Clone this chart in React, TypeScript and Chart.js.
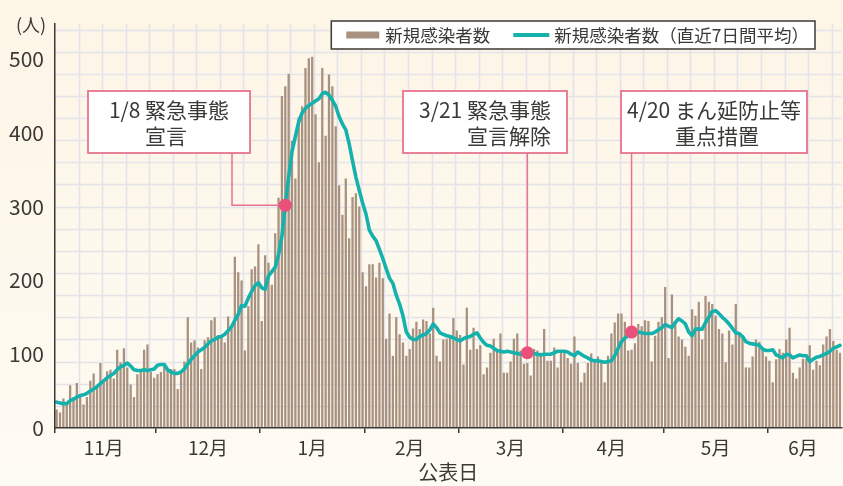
import React, { useEffect, useRef } from 'react';
import { Chart, registerables } from 'chart.js';

Chart.register(...registerables);

// ---------------- data ----------------
const START_YEAR = 2020;
const START_MONTH = 11;
const START_DAY = 1;

const DAILY_CASES = [
  25, 21, 40, 33, 58, 42, 61, 44, 32, 42,
  64, 74, 58, 88, 64, 77, 79, 67, 106, 89,
  108, 82, 59, 42, 73, 76, 106, 113, 76, 68,
  73, 76, 87, 78, 80, 80, 53, 76, 90, 150,
  116, 119, 109, 80, 119, 123, 146, 150, 126, 126,
  116, 151, 136, 232, 211, 200, 105, 165, 215, 219,
  249, 145, 234, 224, 194, 264, 312, 450, 463, 480,
  389, 338, 421, 436, 488, 501, 503, 425, 360, 488,
  396, 479, 463, 409, 329, 289, 338, 257, 313, 318,
  300, 211, 192, 222, 222, 204, 224, 203, 121, 155,
  98, 150, 127, 116, 98, 107, 135, 144, 134, 147,
  145, 128, 163, 98, 90, 120, 121, 125, 149, 132,
  126, 86, 163, 106, 136, 107, 112, 73, 82, 102,
  121, 105, 128, 75, 75, 90, 121, 128, 105, 87,
  88, 71, 107, 105, 102, 134, 91, 91, 109, 82,
  102, 102, 95, 87, 124, 88, 62, 75, 88, 101,
  91, 97, 91, 62, 98, 128, 143, 155, 155, 144,
  105, 106, 115, 141, 138, 146, 145, 90, 125, 144,
  150, 191, 95, 181, 144, 124, 120, 110, 98, 161,
  152, 171, 120, 179, 171, 168, 152, 134, 128, 89,
  132, 113, 168, 129, 122, 82, 82, 97, 120, 117,
  106, 97, 91, 62, 93, 107, 102, 120, 136, 75,
  67, 82, 94, 94, 112, 79, 91, 85, 113, 124,
  134, 118, 106, 102,
];

const AVERAGE_7D = [
  35, 34, 33, 33, 37, 39, 42, 44, 45, 47,
  50, 53, 56, 60, 64, 68, 71, 74, 79, 83,
  85, 88, 84, 79, 78, 78, 79, 78, 79, 80,
  85, 86, 86, 79, 76, 74, 74, 76, 80, 87,
  93, 98, 103, 106, 109, 114, 118, 120, 123, 124,
  127, 132, 137, 146, 154, 166, 165, 176, 185, 193,
  197, 190, 188, 206, 212, 218, 235, 260, 302, 340,
  375, 395, 415, 427, 433, 437, 440, 443, 446, 453,
  455, 451, 444, 436, 422, 412, 404, 385, 362, 340,
  322, 305, 290, 268, 260, 254, 242, 230, 216, 203,
  196, 180, 168, 152, 130, 123, 120, 120, 124, 126,
  128, 133, 141, 136, 129, 127, 125, 124, 122, 120,
  118, 121, 123, 124, 127, 129, 122, 116, 112, 111,
  108, 105, 104, 103, 104, 103, 102, 101, 100, 100,
  102, 102, 101, 100, 99, 100, 100, 100, 102, 104,
  104, 104, 103, 100, 98, 103, 100, 97, 95, 92,
  91, 91, 90, 89, 90, 91, 98, 108, 117, 122,
  125, 130, 129, 130, 129, 128, 128, 128, 130, 133,
  136, 140, 138, 136, 143, 148, 145, 141, 130, 125,
  134, 134, 134, 143, 150, 158, 159, 155, 150, 146,
  141, 135, 129, 128, 124, 117, 115, 114, 113, 112,
  107, 105, 105, 106, 99, 97, 95, 100, 99, 95,
  97, 99, 98, 98, 90, 93, 96, 97, 99, 101,
  104, 108, 110, 112,
];

const Y_TICKS = [0, 100, 200, 300, 400, 500];
const Y_MAX = 548;
const PAPER_STEP_VALUE = 30;
const PAPER_STEP_DAYS = 7;

const SERIES_LABELS = ['新規感染者数', '新規感染者数（直近7日間平均）'];
const Y_UNIT = '(人)';
const X_TITLE = '公表日';

// event markers (position)
const EVENT_DATES = ['2021-01-08', '2021-03-21', '2021-04-21'];
const EVENT_VALUES = [302, 102, 130];
const EVENT_HEAD = ['1/8', '3/21', '4/20'];
const EVENT_LINE1 = ['緊急事態', '緊急事態', 'まん延防止等'];
const EVENT_LINE2 = ['宣言', '宣言解除', '重点措置'];

// ---------------- styles ----------------
const FONT = "'Noto Sans CJK JP', 'Noto Sans', sans-serif";
const INK = '#3b3936';
const BAR_COLOR = '#a8927f';
const TEAL = '#14b1ad';
const PINK = '#e8728f';
const PINK_DOT = '#e9517b';
const PAPER_LINE = '#e4e3ea';
const CALLOUT_BOXES = [
  { left: 88, width: 162, elbowX: 232 },
  { left: 403, width: 164 },
  { left: 621, width: 186 },
];
const CALLOUT_TOP = 91;
const CALLOUT_HEIGHT = 62;
const LEGEND_BOX = { right: 815, top: 21, height: 28 };

// ---------------- derived ----------------
const pad2 = (n: number) => String(n).padStart(2, '0');
const LABELS = DAILY_CASES.map((_, i) => {
  const d = new Date(START_YEAR, START_MONTH - 1, START_DAY + i);
  return `${d.getFullYear()}-${pad2(d.getMonth() + 1)}-${pad2(d.getDate())}`;
});
const monthOf = (l: string) => Number(l.slice(5, 7));
const dayOf = (l: string) => Number(l.slice(8, 10));
const MONTH_LABEL_AT: Record<number, string> = {};
{
  let s = 0;
  for (let i = 1; i <= LABELS.length; i++) {
    if (i === LABELS.length || monthOf(LABELS[i]) !== monthOf(LABELS[s])) {
      MONTH_LABEL_AT[Math.floor((s + i - 1) / 2)] = `${monthOf(LABELS[s])}月`;
      s = i;
    }
  }
}
const EVENT_SERIES = LABELS.map((l) => {
  const k = EVENT_DATES.indexOf(l);
  return k >= 0 ? EVENT_VALUES[k] : null;
});

// ---------------- plugins ----------------
const paperPlugin = {
  id: 'paper',
  beforeDraw(chart: any) {
    const { ctx, width, height } = chart;
    const g = ctx.createLinearGradient(0, 0, 0, height);
    g.addColorStop(0, '#fdf5e6');
    g.addColorStop(1, '#fefbf3');
    ctx.save();
    ctx.fillStyle = g;
    ctx.fillRect(0, 0, width, height);
    ctx.restore();
  },
  beforeDatasetsDraw(chart: any) {
    const { ctx, chartArea: a, scales } = chart;
    const x = scales.x;
    const y = scales.y;
    ctx.save();
    ctx.beginPath();
    ctx.rect(a.left, a.top, a.right - a.left, a.bottom - a.top);
    ctx.clip();
    ctx.strokeStyle = PAPER_LINE;
    ctx.lineWidth = 1.6;
    ctx.beginPath();
    for (let v = PAPER_STEP_VALUE; v <= y.max; v += PAPER_STEP_VALUE) {
      const py = Math.round(y.getPixelForValue(v)) + 0.5;
      ctx.moveTo(a.left, py);
      ctx.lineTo(a.right, py);
    }
    const half = (x.getPixelForValue(1) - x.getPixelForValue(0)) / 2;
    for (let i = PAPER_STEP_DAYS; i < LABELS.length; i += PAPER_STEP_DAYS) {
      const px = Math.round(x.getPixelForValue(i) - half) + 0.5;
      ctx.moveTo(px, a.top);
      ctx.lineTo(px, a.bottom);
    }
    ctx.stroke();
    ctx.restore();
  },
};

const calloutPlugin = {
  id: 'callouts',
  beforeDatasetDraw(chart: any, args: any) {
    if (args.index !== 2) return;
    const { ctx, scales } = chart;
    const x = scales.x;
    const y = scales.y;
    ctx.save();
    EVENT_DATES.forEach((date, k) => {
      const idx = LABELS.indexOf(date);
      const px = x.getPixelForValue(idx);
      const py = y.getPixelForValue(EVENT_VALUES[k]);
      const box: any = CALLOUT_BOXES[k];
      const bottom = CALLOUT_TOP + CALLOUT_HEIGHT;
      ctx.strokeStyle = PINK;
      ctx.lineWidth = 1.5;
      ctx.beginPath();
      if (box.elbowX !== undefined) {
        ctx.moveTo(box.elbowX, bottom);
        ctx.lineTo(box.elbowX, py);
        ctx.lineTo(px, py);
      } else {
        ctx.moveTo(px, bottom);
        ctx.lineTo(px, py);
      }
      ctx.stroke();
      ctx.fillStyle = '#ffffff';
      ctx.fillRect(box.left, CALLOUT_TOP, box.width, CALLOUT_HEIGHT);
      ctx.lineWidth = 1.8;
      ctx.strokeRect(box.left, CALLOUT_TOP, box.width, CALLOUT_HEIGHT);
      ctx.font = `21px ${FONT}`;
      ctx.fillStyle = INK;
      ctx.textBaseline = 'middle';
      ctx.textAlign = 'left';
      const head = EVENT_HEAD[k] + ' ';
      const first = head + EVENT_LINE1[k];
      const w = ctx.measureText(first).width;
      const sx = box.left + box.width / 2 - w / 2;
      ctx.fillText(first, sx, CALLOUT_TOP + 19);
      ctx.fillText(EVENT_LINE2[k], sx + ctx.measureText(head).width, CALLOUT_TOP + 45);
    });
    ctx.restore();
  },
};

const legendPlugin = {
  id: 'boxLegend',
  afterDraw(chart: any) {
    const { ctx } = chart;
    const ds = chart.data.datasets;
    ctx.save();
    ctx.font = `17.5px ${FONT}`;
    ctx.textBaseline = 'middle';
    ctx.textAlign = 'left';
    const w1 = ctx.measureText(ds[0].label).width;
    const w2 = ctx.measureText(ds[1].label).width;
    const total = 15 + 33 + 6 + w1 + 23 + 36 + 5 + w2 + 6;
    const left = LEGEND_BOX.right - total;
    const top = LEGEND_BOX.top;
    const h = LEGEND_BOX.height;
    const cy = top + h / 2;
    ctx.fillStyle = '#ffffff';
    ctx.fillRect(left, top, total, h);
    ctx.strokeStyle = INK;
    ctx.lineWidth = 1.5;
    ctx.strokeRect(left, top, total, h);
    let cx = left + 15;
    ctx.fillStyle = ds[0].backgroundColor;
    ctx.fillRect(cx, cy - 3.5, 33, 7);
    cx += 39;
    ctx.fillStyle = INK;
    ctx.fillText(ds[0].label, cx, cy + 0.5);
    cx += w1 + 23;
    ctx.strokeStyle = ds[1].borderColor;
    ctx.lineWidth = 4;
    ctx.beginPath();
    ctx.moveTo(cx, cy);
    ctx.lineTo(cx + 36, cy);
    ctx.stroke();
    cx += 41;
    ctx.fillText(ds[1].label, cx, cy + 0.5);

    const a = chart.chartArea;
    ctx.font = `18px ${FONT}`;
    ctx.textAlign = 'center';
    ctx.fillText(Y_UNIT, a.left - 24, a.top + 2);
    ctx.restore();
  },
};

export default function App() {
  const ref = useRef<HTMLCanvasElement | null>(null);

  useEffect(() => {
    if (!ref.current) return;
    const chart = new Chart(ref.current, {
      type: 'bar',
      data: {
        labels: LABELS,
        datasets: [
          {
            type: 'bar',
            label: SERIES_LABELS[0],
            data: DAILY_CASES,
            backgroundColor: BAR_COLOR,
            borderWidth: 0,
            barPercentage: 0.68,
            categoryPercentage: 1.0,
            order: 3,
          } as any,
          {
            type: 'line',
            label: SERIES_LABELS[1],
            data: AVERAGE_7D,
            borderColor: TEAL,
            backgroundColor: TEAL,
            borderWidth: 3.6,
            pointRadius: 0,
            tension: 0,
            borderJoinStyle: 'round',
            borderCapStyle: 'round',
            order: 2,
          } as any,
          {
            type: 'line',
            label: 'events',
            data: EVENT_SERIES,
            showLine: false,
            pointRadius: 6.5,
            pointBackgroundColor: PINK_DOT,
            pointBorderWidth: 0,
            order: 1,
          } as any,
        ],
      },
      options: {
        responsive: false,
        devicePixelRatio: 1,
        animation: false,
        layout: { autoPadding: false, padding: { top: 22, left: 0, right: 0, bottom: 0 } },
        plugins: {
          legend: { display: false },
          tooltip: { enabled: false },
        },
        scales: {
          x: {
            type: 'category',
            offset: true,
            grid: {
              display: true,
              drawOnChartArea: false,
              drawTicks: true,
              tickLength: 5,
              offset: true,
              color: 'rgba(0,0,0,0)',
              lineWidth: 1.5,
              z: 1,
              tickColor: (c: any) =>
                c.index < LABELS.length && dayOf(LABELS[c.index]) === 1 ? INK : 'rgba(0,0,0,0)',
            },
            border: { display: true, color: INK, width: 1.5, z: 1 },
            ticks: {
              autoSkip: false,
              maxRotation: 0,
              minRotation: 0,
              padding: 3,
              color: INK,
              font: { family: FONT, size: 19 },
              callback: (_v: any, i: number) => MONTH_LABEL_AT[i] || '',
            },
            title: {
              display: true,
              text: X_TITLE,
              color: INK,
              font: { family: FONT, size: 20 },
              padding: { top: 0, bottom: 2 },
            },
            afterFit: (s: any) => {
              s.height = 58;
            },
          } as any,
          y: {
            min: 0,
            max: Y_MAX,
            grid: { display: false, drawTicks: false },
            border: { display: true, color: INK, width: 1.5, z: 1 },
            ticks: {
              stepSize: 100,
              includeBounds: false,
              padding: 11,
              color: INK,
              font: { family: FONT, size: 21 },
              callback: (v: any) => (Y_TICKS.includes(Number(v)) ? String(v) : ''),
            },
            afterFit: (s: any) => {
              s.width = 55;
            },
          } as any,
        },
      },
      plugins: [paperPlugin, calloutPlugin, legendPlugin],
    });
    return () => chart.destroy();
  }, []);

  return (
    <div style={{ position: 'absolute', left: 0, top: 0, width: 843, height: 486 }}>
      <canvas ref={ref} width={843} height={486} style={{ display: 'block', width: 843, height: 486 }} />
    </div>
  );
}
